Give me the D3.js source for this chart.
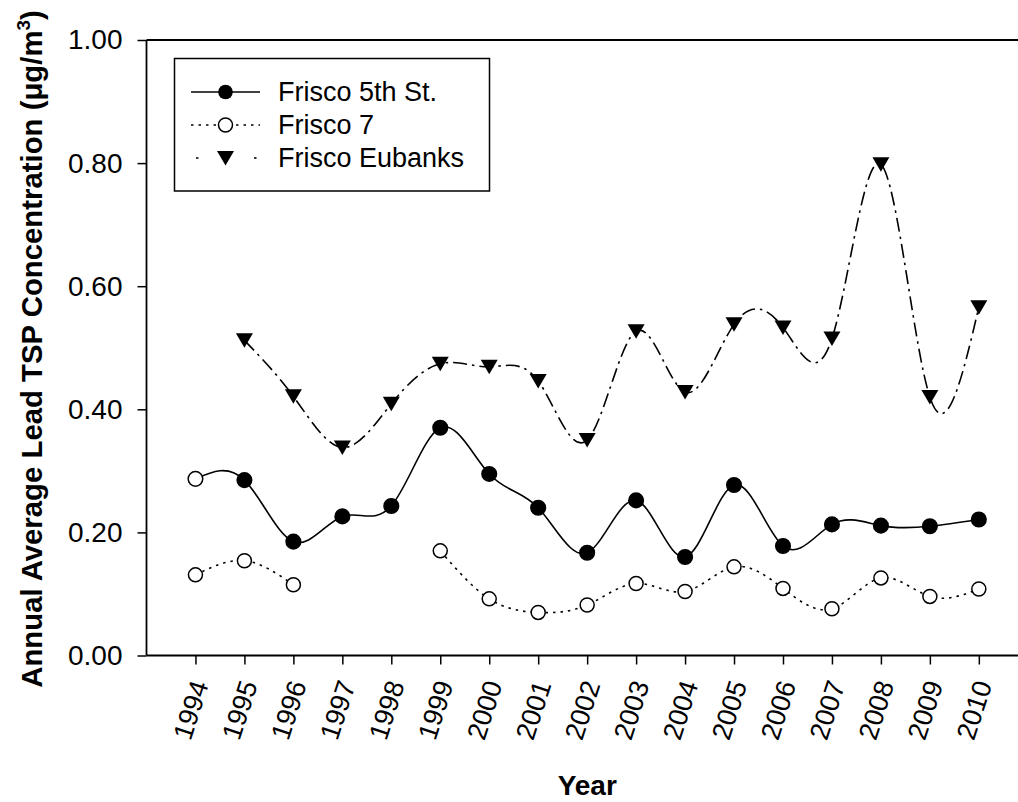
<!DOCTYPE html>
<html>
<head>
<meta charset="utf-8">
<script src="https://cdn.jsdelivr.net/npm/d3@7"></script>
<style>
  html, body { margin: 0; padding: 0; background: #fff; }
  svg { display: block; }
  text { font-family: Arial, "Liberation Sans", Helvetica, sans-serif; fill: #000; }
</style>
</head>
<body>
<svg id="chart" width="1018" height="802"></svg>
<script>
// ---- data ----
const years = [1994,1995,1996,1997,1998,1999,2000,2001,2002,2003,2004,2005,2006,2007,2008,2009,2010];
const fifthSt = [0.287,0.285,0.185,0.226,0.243,0.370,0.295,0.240,0.167,0.252,0.160,0.277,0.178,0.213,0.211,0.210,0.221];
const fifthStHollowYears = [1994];
const frisco7 = [0.131,0.154,0.115,null,null,0.170,0.092,0.070,0.082,0.117,0.104,0.144,0.109,0.076,0.126,0.096,0.108];
const eubanks = [null,0.512,0.421,0.338,0.409,0.474,0.469,0.446,0.350,0.527,0.428,0.538,0.533,0.515,0.798,0.420,0.566];
const yTicks = [0.00,0.20,0.40,0.60,0.80,1.00];
const seriesNames = ["Frisco 5th St.","Frisco 7","Frisco Eubanks"];
const xTitle = "Year";
const yTitle = "Annual Average Lead TSP Concentration (μg/m";

// ---- layout ----
const svg = d3.select("#chart");
const pL = 146.5, pR = 1018, pT = 40, pB = 655.5;
const x = d3.scaleLinear().domain([1993, 2010.8]).range([pL, pR]);
const y = d3.scaleLinear().domain([0, 1]).range([pB, pT]);

// top frame line
svg.append("line").attr("x1", pL).attr("x2", pR).attr("y1", pT).attr("y2", pT)
  .attr("stroke", "#000").attr("stroke-width", 1.8);

// y axis
const yAxis = d3.axisLeft(y).tickValues(yTicks).tickFormat(d3.format(".2f")).tickSize(9).tickPadding(15);
const gy = svg.append("g").attr("transform", `translate(${pL},0)`).call(yAxis);
gy.select(".domain").attr("stroke", "#000").attr("stroke-width", 1.8).attr("d", `M0,${pT}V${pB}`);
gy.selectAll(".tick line").attr("stroke", "#000").attr("stroke-width", 1.5);
gy.selectAll(".tick text").attr("font-size", 28).attr("font-family", "Arial, 'Liberation Sans', sans-serif").attr("fill", "#000");

// x axis
const xAxis = d3.axisBottom(x).tickValues(years).tickFormat(d3.format("d")).tickSize(9);
const gx = svg.append("g").attr("transform", `translate(0,${pB})`).call(xAxis);
gx.select(".domain").attr("stroke", "#000").attr("stroke-width", 1.8).attr("d", `M${pL},0H${pR}`);
gx.selectAll(".tick line").attr("stroke", "#000").attr("stroke-width", 1.5);
gx.selectAll(".tick text")
  .attr("font-size", 27).attr("font-family", "Arial, 'Liberation Sans', sans-serif").attr("fill", "#000")
  .attr("text-anchor", "end")
  .attr("x", 0).attr("y", 0).attr("dy", "0.35em")
  .attr("transform", "translate(4,26) rotate(-72)");

// titles
svg.append("text").attr("x", (pL + pR) / 2 + 5).attr("y", 795)
  .attr("text-anchor", "middle").attr("font-size", 28).attr("font-weight", "bold").text(xTitle);

const yt = svg.append("text")
  .attr("text-anchor", "middle").attr("font-size", 29.5).attr("font-weight", "bold");
yt.append("tspan").text(yTitle);
yt.append("tspan").attr("font-size", 19).attr("dy", -12).text("3");
yt.append("tspan").attr("dy", 12).text(")");
(function(){
  const bb = yt.node().getBBox();
  const s = 678 / bb.width;
  const cx = bb.x + bb.width / 2;
  yt.attr("transform", `translate(42,349) rotate(-90) scale(${s},1) translate(${-cx},0)`);
})();

// ---- series ----
const line = d3.line().defined(d => d[1] != null).x(d => x(d[0])).y(d => y(d[1])).curve(d3.curveNatural);
const styles = [
  { dash: null },
  { dash: "2.5,5" },
  { dash: "14,5,2.5,5" }
];
const seriesData = [fifthSt, frisco7, eubanks].map(vals => years.map((yr, i) => [yr, vals[i]]));

seriesData.forEach((data, i) => {
  svg.append("path").datum(data).attr("d", line)
    .attr("fill", "none").attr("stroke", "#000").attr("stroke-width", 1.6)
    .attr("stroke-dasharray", styles[i].dash);
});

const tri = "M-8.5,-7L8.5,-7L0,7.5Z";
svg.append("g").selectAll("circle").data(seriesData[0].filter(d => d[1] != null)).join("circle")
  .attr("cx", d => x(d[0])).attr("cy", d => y(d[1])).attr("r", 7.3)
  .attr("fill", d => fifthStHollowYears.includes(d[0]) ? "#fff" : "#000")
  .attr("stroke", "#000").attr("stroke-width", 1.5);
svg.append("g").selectAll("circle").data(seriesData[1].filter(d => d[1] != null)).join("circle")
  .attr("cx", d => x(d[0])).attr("cy", d => y(d[1])).attr("r", 7)
  .attr("fill", "#fff").attr("stroke", "#000").attr("stroke-width", 1.5);
svg.append("g").selectAll("path").data(seriesData[2].filter(d => d[1] != null)).join("path")
  .attr("transform", d => `translate(${x(d[0])},${y(d[1])})`).attr("d", tri).attr("fill", "#000");

// ---- legend ----
const lg = svg.append("g");
lg.append("rect").attr("x", 174.5).attr("y", 58.5).attr("width", 315).attr("height", 132.5)
  .attr("fill", "#fff").attr("stroke", "#000").attr("stroke-width", 1.5);
const rowY = [92, 125, 158];
seriesNames.forEach((name, i) => {
  lg.append("line").attr("x1", 191).attr("x2", 260).attr("y1", rowY[i]).attr("y2", rowY[i])
    .attr("stroke", "#000").attr("stroke-width", 1.6).attr("stroke-dasharray", i === 2 ? "2.5,55.5" : styles[i].dash)
    .attr("stroke-dashoffset", i === 2 ? -5 : 0);
  if (i === 0) lg.append("circle").attr("cx", 225.5).attr("cy", rowY[i]).attr("r", 7.3).attr("fill", "#000");
  if (i === 1) lg.append("circle").attr("cx", 225.5).attr("cy", rowY[i]).attr("r", 7).attr("fill", "#fff").attr("stroke", "#000").attr("stroke-width", 1.5);
  if (i === 2) lg.append("path").attr("transform", `translate(225.5,${rowY[i]})`).attr("d", tri).attr("fill", "#000");
  lg.append("text").attr("x", 278).attr("y", rowY[i]).attr("dy", "0.35em").attr("font-size", 27).text(name);
});
</script>
</body>
</html>
